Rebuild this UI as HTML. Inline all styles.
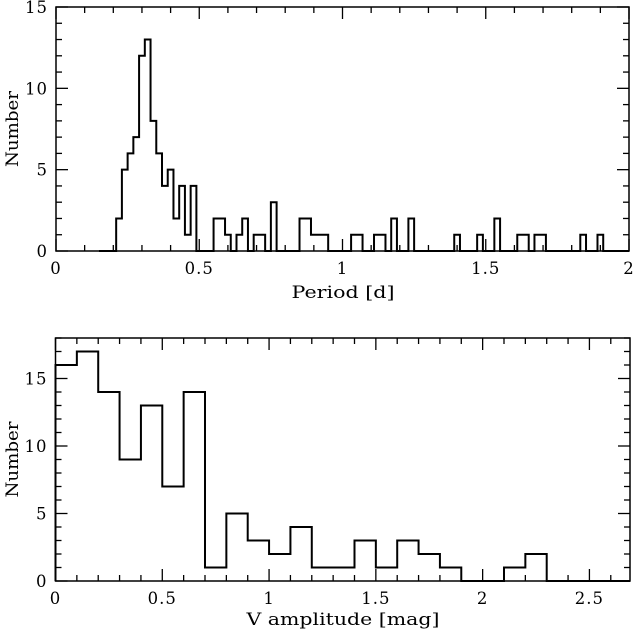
<!DOCTYPE html>
<html><head><meta charset="utf-8"><style>
html,body{margin:0;padding:0;background:#fff;}
svg text{font-family:"DejaVu Serif","Liberation Serif",serif;font-size:16.5px;fill:#000;}
svg text.tick{letter-spacing:1px;}
svg text.title{font-size:17px;}
</style></head><body>
<svg id="c" width="636" height="634" xmlns="http://www.w3.org/2000/svg"></svg>
<script>
// Top panel data: period histogram, bins of 0.02 d starting at 0.15
const periodBinStart = 0.15;
const periodBinWidth = 0.02;
const periodCounts = [0,0,0,2,5,6,7,12,13,8,6,4,5,2,4,1,4,0,0,0,2,2,1,0,1,2,0,1,1,0,3,0,0,0,0,2,2,1,1,1,0,0,0,0,1,1,0,0,1,1,0,2,0,0,2,0,0,0,0,0,0,0,1,0,0,0,1,0,0,2,0,0,0,1,1,0,1,1,0,0,0,0,0,0,1,0,0,1,0,0,0,0,0];
const periodXTicks = [0,0.5,1,1.5,2];
const periodXTickLabels = ["0","0.5","1","1.5","2"];
const periodYTicks = [0,5,10,15];
const periodYTickLabels = ["0","5","10","15"];
// Bottom panel data: amplitude histogram, bins of 0.1 mag starting at 0
const ampBinStart = 0;
const ampBinWidth = 0.1;
const ampCounts = [16,17,14,9,13,7,14,1,5,3,2,4,1,1,3,1,3,2,1,0,0,1,2,0,0,0,0];
const ampXTicks = [0,0.5,1,1.5,2,2.5];
const ampXTickLabels = ["0","0.5","1","1.5","2","2.5"];
const ampYTicks = [0,5,10,15];
const ampYTickLabels = ["0","5","10","15"];

const NS="http://www.w3.org/2000/svg";
const svg=document.getElementById('c');
function mk(tag,attrs,parent){const e=document.createElementNS(NS,tag);for(const k in attrs)e.setAttribute(k,attrs[k]);(parent||svg).appendChild(e);return e;}

function panel(o){
  const g=mk('g',{});
  
  
  const xs=v=>o.x0+(v-o.xmin)/(o.xmax-o.xmin)*(o.x1-o.x0);
  const ys=v=>o.y1-(v-o.ymin)/(o.ymax-o.ymin)*(o.y1-o.y0);
  const axes=mk('g',{stroke:'#000','stroke-width':1.3,fill:'none'},g);
  
  
  for(let v=o.xmin;v<=o.xmax+1e-9;v+=o.xminor){
    const major=Math.abs(v/o.xmajor-Math.round(v/o.xmajor))<1e-6;
    const L=major?12:6;const x=xs(v);
    mk('line',{x1:x,y1:o.y1,x2:x,y2:o.y1-L},axes);
    mk('line',{x1:x,y1:o.y0,x2:x,y2:o.y0+L},axes);
  }
  for(let v=o.ymin;v<=o.ymax+1e-9;v+=o.yminor){
    const major=Math.abs(v/o.ymajor-Math.round(v/o.ymajor))<1e-6;
    const L=major?12:6;const y=ys(v);
    mk('line',{x1:o.x0,y1:y,x2:o.x0+L,y2:y},axes);
    mk('line',{x1:o.x1,y1:y,x2:o.x1-L,y2:y},axes);
  }
  const fr=mk('rect',{x:o.x0,y:o.y0,width:o.x1-o.x0,height:o.y1-o.y0,stroke:'#000','stroke-width':1.5,fill:'none'},g);
  
  
  o.xt.forEach((v,i)=>{const t=mk('text',{x:xs(v),y:o.y1+23,'text-anchor':'middle','class':'tick'},g);t.textContent=o.xtl[i];
    
    });
  o.yt.forEach((v,i)=>{const t=mk('text',{x:o.x0-8,y:ys(v)+6,'text-anchor':'end','class':'tick'},g);t.textContent=o.ytl[i];
    
    });
  const cx=343;
  const xt=mk('text',{x:cx-o.xlw/2,y:o.xly,textLength:o.xlw,lengthAdjust:'spacingAndGlyphs','class':'title'},g);xt.textContent=o.xlabel;
  
  
  const cy=(o.y0+o.y1)/2;
  const yt=mk('text',{x:0,y:0,textLength:76,lengthAdjust:'spacingAndGlyphs','class':'title',transform:`translate(18,${cy+38}) rotate(-90)`},g);
  yt.textContent='Number';
  
  
  let d='';
  o.counts.forEach((c,i)=>{
    let a=o.start+i*o.w,b=a+o.w;
    if(a>=o.xmax)return;if(b>o.xmax)b=o.xmax;
    const y=ys(c);
    d+=(d===''?`M${xs(a)},${ys(0)}L${xs(a)},${y}`:`L${xs(a)},${y}`)+`L${xs(b)},${y}`;
  });
  const p=mk('path',{d:d,stroke:'#000','stroke-width':2,fill:'none','stroke-linejoin':'miter'},g);
  
  
}
panel({name:'period-panel',x0:56,x1:629,y0:7,y1:251,xmin:0,xmax:2,ymin:0,ymax:15,xminor:0.1,xmajor:0.5,yminor:1,ymajor:5,
  xt:periodXTicks,xtl:periodXTickLabels,yt:periodYTicks,ytl:periodYTickLabels,xlabel:'Period [d]',xlw:103,xly:298,
  counts:periodCounts,start:periodBinStart,w:periodBinWidth});
panel({name:'amplitude-panel',x0:55.5,x1:630,y0:338,y1:581,xmin:0,xmax:2.69,ymin:0,ymax:18,xminor:0.1,xmajor:0.5,yminor:1,ymajor:5,
  xt:ampXTicks,xtl:ampXTickLabels,yt:ampYTicks,ytl:ampYTickLabels,xlabel:'V amplitude [mag]',xlw:193,xly:625,
  counts:ampCounts,start:ampBinStart,w:ampBinWidth});
</script>
</body></html>
